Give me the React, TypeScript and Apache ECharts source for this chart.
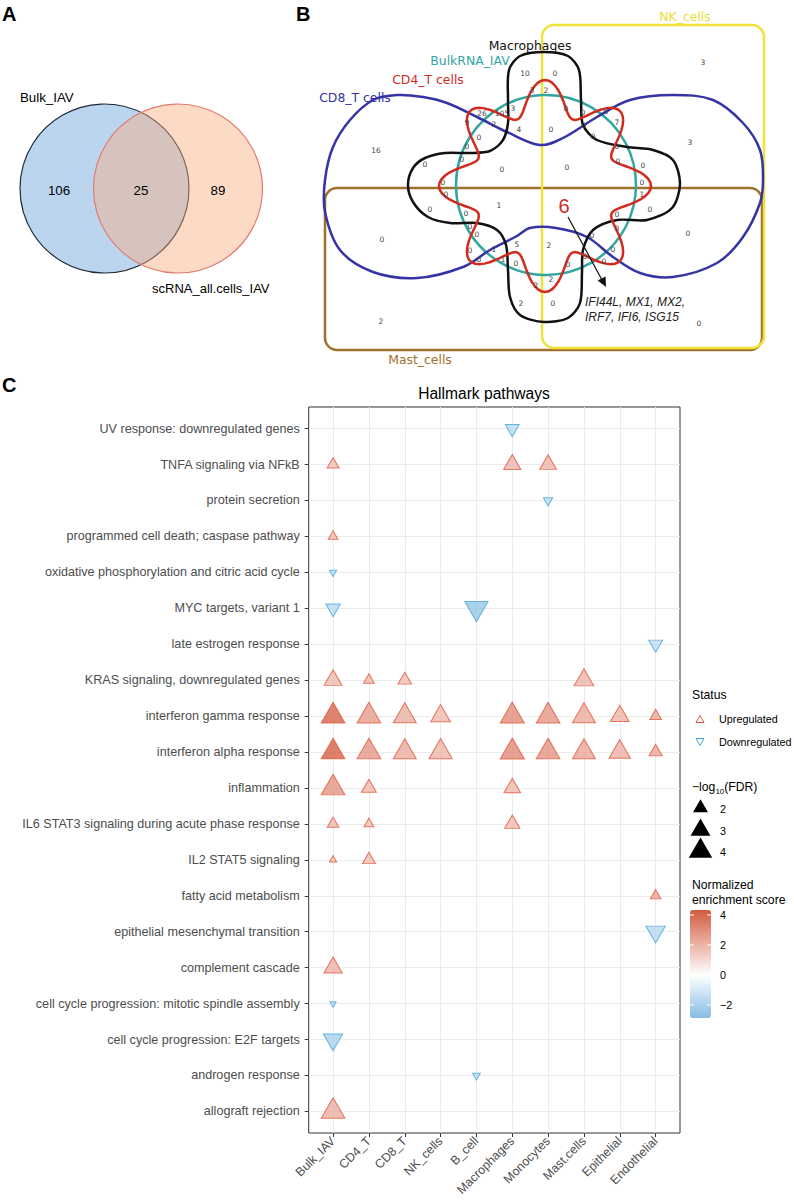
import React, { useEffect, useRef } from "react";
import * as echarts from "echarts";

// ---------------- DATA ----------------
const cellTypes = ["Bulk_IAV", "CD4_T", "CD8_T", "NK_cells", "B_cell", "Macrophages", "Monocytes", "Mast.cells", "Epithelial", "Endothelial"];

const pathways = [
  "UV response: downregulated genes",
  "TNFA signaling via NFkB",
  "protein secretion",
  "programmed cell death; caspase pathway",
  "oxidative phosphorylation and citric acid cycle",
  "MYC targets, variant 1",
  "late estrogen response",
  "KRAS signaling, downregulated genes",
  "interferon gamma response",
  "interferon alpha response",
  "inflammation",
  "IL6 STAT3 signaling during acute phase response",
  "IL2 STAT5 signaling",
  "fatty acid metabolism",
  "epithelial mesenchymal transition",
  "complement cascade",
  "cell cycle progression: mitotic spindle assembly",
  "cell cycle progression: E2F targets",
  "androgen response",
  "allograft rejection",
];

// [pathway, normalized enrichment score, -log10(FDR)]
type Hit = [string, number, number];
const bulkIAV: Hit[] = [
  ["TNFA signaling via NFkB", 1.7, 1.6],
  ["programmed cell death; caspase pathway", 1.7, 1.41],
  ["oxidative phosphorylation and citric acid cycle", -1.4, 1.31],
  ["MYC targets, variant 1", -1.6, 1.95],
  ["KRAS signaling, downregulated genes", 1.8, 2.56],
  ["interferon gamma response", 4.1, 4.08],
  ["interferon alpha response", 4.2, 4.08],
  ["inflammation", 2.8, 4.08],
  ["IL6 STAT3 signaling during acute phase response", 1.8, 1.57],
  ["IL2 STAT5 signaling", 1.6, 1.31],
  ["complement cascade", 2.0, 2.63],
  ["cell cycle progression: mitotic spindle assembly", -1.5, 1.3],
  ["cell cycle progression: E2F targets", -2.0, 2.86],
  ["allograft rejection", 2.1, 4.08],
];
const cd4T: Hit[] = [
  ["KRAS signaling, downregulated genes", 1.8, 1.5],
  ["interferon gamma response", 2.6, 4.08],
  ["interferon alpha response", 2.7, 4.08],
  ["inflammation", 1.8, 2.0],
  ["IL6 STAT3 signaling during acute phase response", 1.7, 1.43],
  ["IL2 STAT5 signaling", 1.7, 1.72],
];
const cd8T: Hit[] = [
  ["KRAS signaling, downregulated genes", 1.7, 1.8],
  ["interferon gamma response", 2.1, 3.86],
  ["interferon alpha response", 2.2, 3.86],
];
const nkCells: Hit[] = [
  ["interferon gamma response", 1.8, 2.95],
  ["interferon alpha response", 1.9, 3.95],
];
const bCell: Hit[] = [
  ["MYC targets, variant 1", -2.5, 3.95],
  ["androgen response", -1.6, 1.32],
];
const macrophages: Hit[] = [
  ["UV response: downregulated genes", -1.6, 1.85],
  ["TNFA signaling via NFkB", 1.9, 2.42],
  ["interferon gamma response", 3.0, 4.2],
  ["interferon alpha response", 3.1, 4.2],
  ["inflammation", 1.8, 2.3],
  ["IL6 STAT3 signaling during acute phase response", 1.8, 2.05],
];
const monocytes: Hit[] = [
  ["TNFA signaling via NFkB", 1.9, 2.3],
  ["protein secretion", -1.6, 1.39],
  ["interferon gamma response", 2.7, 4.08],
  ["interferon alpha response", 2.8, 4.08],
];
const mastCells: Hit[] = [
  ["KRAS signaling, downregulated genes", 1.9, 2.95],
  ["interferon gamma response", 2.2, 3.86],
  ["interferon alpha response", 2.3, 3.86],
];
const epithelial: Hit[] = [
  ["interferon gamma response", 1.9, 2.72],
  ["interferon alpha response", 2.1, 3.39],
];
const endothelial: Hit[] = [
  ["late estrogen response", -1.5, 1.85],
  ["interferon gamma response", 2.2, 1.57],
  ["interferon alpha response", 2.3, 1.76],
  ["fatty acid metabolism", 2.4, 1.48],
  ["epithelial mesenchymal transition", -1.7, 2.86],
];
const hitsByCellType = [bulkIAV, cd4T, cd8T, nkCells, bCell, macrophages, monocytes, mastCells, epithelial, endothelial];

const statusLabels = ["Upregulated", "Downregulated"];
const sizeLegendValues = [2, 3, 4];
const nesTicks = [4, 2, 0, -2];
const NES_MIN = -2.87;
const NES_MAX = 4.33;

// Venn A
const vennASets = ["Bulk_IAV", "scRNA_all.cells_IAV"];
const vennACounts = [106, 25, 89]; // only Bulk, both, only scRNA

// Venn B
const vennBSets = ["CD8_T cells", "CD4_T cells", "BulkRNA_IAV", "Macrophages", "NK_cells", "Mast_cells"];
const vennBCounts = [10, 3, 2, 26, 105, 3, 9, 2, 4, 16, 0, 0, 0, 0, 0, 0, 3, 0, 0, 0, 7, 0, 0, 0, 3, 0, 0, 0, 0,
  0, 0, 1, 0, 0, 0, 0, 0, 5, 0, 1, 0, 1, 0, 2, 2, 2, 0, 1, 0, 0, 0, 0, 0, 2, 0, 0, 0, 0, 2, 0, 0];
const sharedCount = 6;
const sharedGenes = ["IFI44L, MX1, MX2,", "IRF7, IFI6, ISG15"];

// ---------------- LAYOUT (positions only) ----------------
const vennBSpots: number[][] = [
  [525, 73], [532, 90], [546, 90], [482, 113], [502, 113], [513, 108], [467, 122], [494, 124], [519, 129], [376, 150],
  [479, 137], [467, 146], [462, 159], [425, 164], [502, 169], [555, 73], [703, 62], [566, 108], [583, 112], [606, 111],
  [617, 122], [584, 125], [551, 129], [593, 136], [690, 142], [617, 146], [567, 167], [618, 161], [643, 165],
  [443, 182], [446, 194], [499, 205], [430, 209], [466, 213], [470, 226], [477, 234], [382, 239], [517, 244], [470, 250],
  [494, 249], [479, 259], [503, 259], [516, 263], [536, 285], [521, 303], [381, 321], [642, 182], [642, 194], [650, 209],
  [617, 214], [617, 228], [688, 233], [592, 235], [549, 245], [613, 249], [585, 256], [568, 264], [604, 261], [551, 279],
  [553, 303], [699, 323],
];

const SANS = '"Liberation Sans", Arial, Helvetica, sans-serif';
const DJV = '"DejaVu Sans", Verdana, sans-serif';

const UP_STROKE = "#E4573F";
const DOWN_STROKE = "#47A7DC";
const LOW = [74, 155, 212];
const HIGH = [211, 91, 63];

function nesColor(v: number): string {
  const t = Math.max(-1, Math.min(1, v / NES_MAX));
  const target = t < 0 ? LOW : HIGH;
  const a = Math.abs(t);
  const c = [0, 1, 2].map((i) => Math.round(255 + (target[i] - 255) * a));
  return `rgb(${c[0]},${c[1]},${c[2]})`;
}

function triWidth(fdr: number): number {
  const r = Math.max(0, Math.min(1, (fdr - 1.3) / 3));
  return 6.2 + 18.2 * Math.sqrt(r);
}

function buildOption() {
  const points: any[] = [];
  hitsByCellType.forEach((hits, col) => {
    hits.forEach(([pw, nes, fdr]) => {
      const row = pathways.indexOf(pw);
      const w = triWidth(fdr);
      const h = w * 0.87;
      const up = nes > 0;
      points.push({
        value: [col, row, nes, fdr],
        symbol: "triangle",
        symbolSize: [w, h],
        symbolRotate: up ? 0 : 180,
        symbolOffset: [0, up ? -h / 6 : h / 6],
        itemStyle: { borderColor: up ? UP_STROKE : DOWN_STROKE, borderWidth: 1 },
      });
    });
  });

  const stops: string[] = [];
  for (let i = 0; i <= 30; i++) stops.push(nesColor(NES_MIN + ((NES_MAX - NES_MIN) * i) / 30));

  const g: any[] = [];
  const txt = (text: string, x: number, y: number, o: any = {}) =>
    g.push({
      type: "text",
      x,
      y,
      z: 60,
      style: {
        text,
        fill: o.fill || "#000",
        fontSize: o.size || 12,
        fontFamily: o.family || SANS,
        fontWeight: o.weight || "normal",
        fontStyle: o.style || "normal",
        textAlign: o.align || "left",
        textVerticalAlign: "middle",
        rich: o.rich,
      },
    });

  // Panel letters
  txt("A", 2, 14, { size: 20, weight: "bold" });
  txt("B", 296, 14, { size: 20, weight: "bold" });
  txt("C", 2, 385, { size: 20, weight: "bold" });

  // ---- Venn A ----
  g.push({ type: "circle", z: 10, shape: { cx: 104.5, cy: 188.5, r: 84.5 }, style: { fill: "#BBD5EE", stroke: "#1E2A38", lineWidth: 1.2 } });
  g.push({ type: "circle", z: 11, shape: { cx: 178, cy: 188.5, r: 84.5 }, style: { fill: "rgba(249,173,129,0.45)", stroke: "#E07B6E", lineWidth: 1.2 } });
  txt(vennASets[0], 20, 97, { size: 13.3 });
  txt(vennASets[1], 152, 288, { size: 13 });
  txt(String(vennACounts[0]), 59, 190, { size: 13.3, align: "center" });
  txt(String(vennACounts[1]), 141, 190, { size: 13.3, align: "center" });
  txt(String(vennACounts[2]), 218, 190, { size: 13.3, align: "center" });

  // ---- Venn B ----
  g.push({ type: "rect", z: 20, shape: { x: 325, y: 188, width: 437, height: 162, r: 12 }, style: { fill: "none", stroke: "#A0712B", lineWidth: 2.5 } });
  g.push({ type: "rect", z: 21, shape: { x: 542, y: 25, width: 222, height: 323, r: 12 }, style: { fill: "none", stroke: "#F1E23A", lineWidth: 2.5 } });
  g.push({ type: "circle", z: 22, shape: { cx: 546, cy: 185, r: 90 }, style: { fill: "none", stroke: "#33A6A0", lineWidth: 2.5 } });
  const bluePts = [
    [325, 180], [333, 147], [350, 120], [373, 100], [397, 95], [423, 97], [447, 103], [477, 117], [507, 132], [540, 145],
    [563, 138], [597, 117], [630, 100], [673, 95], [713, 100], [743, 123], [760, 150], [763, 180], [760, 203], [743, 237],
    [717, 263], [673, 277], [640, 273], [613, 257], [587, 237], [556, 228], [530, 228], [517, 236], [490, 250], [463, 267],
    [417, 278], [373, 272], [340, 250], [325, 212],
  ];
  g.push({ type: "polygon", z: 23, shape: { points: bluePts, smooth: 0.35 }, style: { fill: "none", stroke: "#3434A6", lineWidth: 2.5 } });
  const blackPts = [
    [508, 100], [509, 70], [520, 56], [544, 52], [568, 56], [579, 70], [581, 100], [583, 125], [597, 140], [627, 147],
    [653, 150], [673, 160], [680, 184], [672, 208], [647, 220], [617, 220], [593, 230], [583, 250], [582, 272], [580, 303],
    [568, 318], [544, 322], [520, 315], [510, 297], [508, 270], [506, 245], [497, 230], [477, 223], [450, 223], [428, 217],
    [413, 202], [408, 185], [413, 168], [425, 158], [445, 153], [470, 153], [490, 151], [503, 140], [508, 123],
  ];
  g.push({ type: "polygon", z: 24, shape: { points: blackPts, smooth: 0.3 }, style: { fill: "none", stroke: "#111", lineWidth: 2.5 } });
  const redPts: number[][] = [];
  for (let k = 0; k < 360; k += 2) {
    const th = (k * Math.PI) / 180;
    const r = 89 + 17 * Math.cos(8 * th);
    redPts.push([545 + r * Math.cos(th), 186 - r * Math.sin(th)]);
  }
  g.push({ type: "polygon", z: 25, shape: { points: redPts }, style: { fill: "none", stroke: "#D22B1F", lineWidth: 2.5 } });

  txt(vennBSets[3], 530, 45, { size: 12.4, family: DJV, fill: "#111", align: "center" });
  txt(vennBSets[2], 470, 60, { size: 12.4, family: DJV, fill: "#33A6A0", align: "center" });
  txt(vennBSets[1], 428, 79, { size: 12.4, family: DJV, fill: "#D22B1F", align: "center" });
  txt(vennBSets[0], 355, 97, { size: 12.4, family: DJV, fill: "#3434A6", align: "center" });
  txt(vennBSets[4], 685, 16, { size: 12.4, family: DJV, fill: "#EBDC3A", align: "center" });
  txt(vennBSets[5], 420, 359, { size: 12.4, family: DJV, fill: "#A0712B", align: "center" });

  vennBCounts.forEach((c, i) => {
    const p = vennBSpots[i];
    txt(String(c), p[0], p[1], { size: 7.5, family: DJV, fill: "#444", align: "center" });
  });
  txt(String(sharedCount), 564, 206, { size: 20, fill: "#D22B1F", align: "center" });
  g.push({ type: "line", z: 60, shape: { x1: 568, y1: 217, x2: 602, y2: 280 }, style: { stroke: "#111", lineWidth: 1.2 } });
  g.push({ type: "polygon", z: 60, shape: { points: [[606, 287], [597.6, 280.6], [605.6, 276.6]] }, style: { fill: "#111" } });
  txt(sharedGenes[0], 585, 302, { size: 12, style: "italic", fill: "#222" });
  txt(sharedGenes[1], 585, 317, { size: 12, style: "italic", fill: "#222" });

  // ---- Legends for C ----
  txt("Status", 692, 695, { size: 12.2 });
  g.push({ type: "polygon", z: 60, shape: { points: [[700, 715.5], [704, 722.5], [696, 722.5]] }, style: { fill: "none", stroke: UP_STROKE, lineWidth: 1 } });
  g.push({ type: "polygon", z: 60, shape: { points: [[700, 745.5], [704, 738.5], [696, 738.5]] }, style: { fill: "none", stroke: DOWN_STROKE, lineWidth: 1 } });
  txt(statusLabels[0], 719, 719, { size: 10.8 });
  txt(statusLabels[1], 719, 742, { size: 10.8 });

  txt("{a|−log}{s|10}{a|(FDR)}", 692, 787, {
    size: 12.2,
    rich: {
      a: { fontSize: 12.2, fontFamily: SANS, fill: "#000", lineHeight: 16 },
      s: { fontSize: 8, fontFamily: SANS, fill: "#000", verticalAlign: "bottom", lineHeight: 16, padding: [6, 0, 0, 0] },
    },
  });
  const sizeRows = [808, 830, 851];
  sizeLegendValues.forEach((v, i) => {
    const w = triWidth(v);
    const h = w * 0.87;
    const cy = sizeRows[i];
    const cx = 700.5;
    g.push({ type: "polygon", z: 60, shape: { points: [[cx, cy - (2 * h) / 3], [cx + w / 2, cy + h / 3], [cx - w / 2, cy + h / 3]] }, style: { fill: "#000" } });
    txt(String(v), 720, cy + 1, { size: 10.8 });
  });

  txt("Normalized", 692, 885, { size: 12.2 });
  txt("enrichment score", 692, 900, { size: 12.2 });
  const CB_TOP = 910, CB_H = 108, CB_X = 690, CB_W = 21;
  nesTicks.forEach((v) => {
    const y = CB_TOP + ((NES_MAX - v) / (NES_MAX - NES_MIN)) * CB_H;
    g.push({ type: "line", z: 60, shape: { x1: CB_X, y1: y, x2: CB_X + 4, y2: y }, style: { stroke: "#fff", lineWidth: 1 } });
    g.push({ type: "line", z: 60, shape: { x1: CB_X + CB_W - 4, y1: y, x2: CB_X + CB_W, y2: y }, style: { stroke: "#fff", lineWidth: 1 } });
    txt(v < 0 ? "−" + Math.abs(v) : String(v), 720, y, { size: 10.8 });
  });

  return {
    animation: false,
    backgroundColor: "#fff",
    title: {
      text: "Hallmark pathways",
      left: 484,
      top: 385,
      textAlign: "center",
      padding: 0,
      textStyle: { fontFamily: SANS, fontSize: 15.6, fontWeight: "normal", color: "#000" },
    },
    grid: { left: 308.7, top: 407, width: 371.3, height: 726, show: true, borderColor: "#333", borderWidth: 1, backgroundColor: "transparent", containLabel: false },
    xAxis: {
      type: "value",
      min: -0.68,
      max: 9.68,
      position: "bottom",
      axisLine: { show: false, onZero: false },
      axisTick: { show: true, length: 4, lineStyle: { color: "#333" }, customValues: cellTypes.map((_, i) => i) },
      axisLabel: {
        customValues: cellTypes.map((_, i) => i),
        formatter: (v: number) => cellTypes[Math.round(v)] ?? "",
        rotate: 45,
        margin: 6,
        fontSize: 12.4,
        fontFamily: SANS,
        color: "#4D4D4D",
      },
      splitLine: { show: true, lineStyle: { color: "#EBEBEB", width: 1 } },
    },
    yAxis: {
      type: "value",
      inverse: true,
      min: -0.6,
      max: 19.6,
      position: "left",
      axisLine: { show: false, onZero: false },
      axisTick: { show: true, length: 4, lineStyle: { color: "#333" }, customValues: pathways.map((_, i) => i) },
      axisLabel: {
        customValues: pathways.map((_, i) => i),
        formatter: (v: number) => pathways[Math.round(v)] ?? "",
        margin: 9,
        fontSize: 12.6,
        fontFamily: SANS,
        color: "#4D4D4D",
      },
      splitLine: { show: true, lineStyle: { color: "#EBEBEB", width: 1 } },
    },
    visualMap: {
      type: "continuous",
      show: true,
      min: NES_MIN,
      max: NES_MAX,
      dimension: 2,
      seriesIndex: 0,
      calculable: false,
      left: CB_X,
      top: CB_TOP,
      itemWidth: CB_W,
      itemHeight: CB_H,
      padding: 0,
      inRange: { color: stops },
    },
    series: [
      {
        type: "scatter",
        data: points,
        z: 5,
      },
    ],
    graphic: g,
  };
}

export default function App() {
  const ref = useRef<HTMLDivElement>(null);
  useEffect(() => {
    const el = ref.current!;
    const chart = echarts.init(el, undefined, { renderer: "svg" });
    chart.setOption(buildOption() as any);
    return () => chart.dispose();
  }, []);
  return <div ref={ref} style={{ position: "absolute", left: 0, top: 0, width: 794, height: 1202, background: "#fff" }} />;
}
